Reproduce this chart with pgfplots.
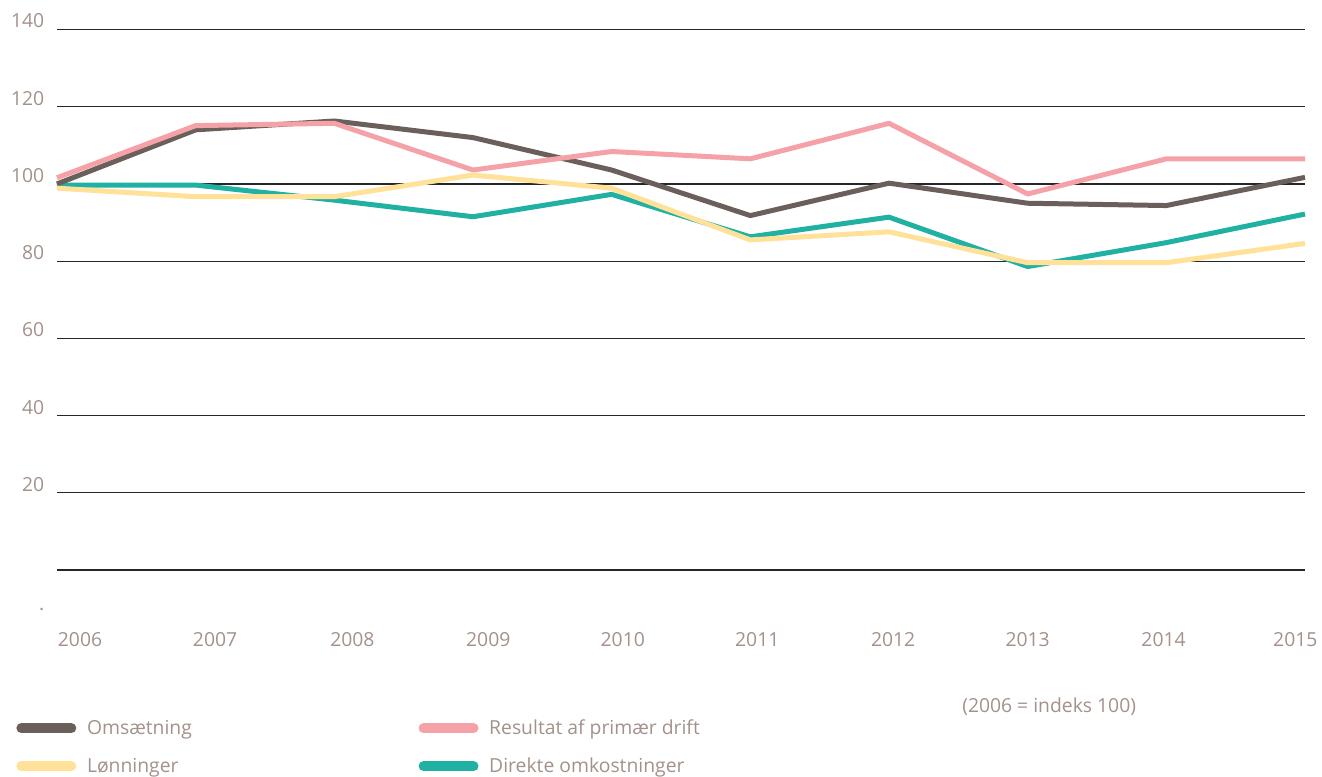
\documentclass[border=0pt]{standalone}
\usepackage{pgfplots}
\pgfplotsset{compat=1.18}
\usepackage{fontspec}
\setmainfont{Open Sans}
\definecolor{cDark}{RGB}{107,95,92}
\definecolor{cPink}{RGB}{244,162,168}
\definecolor{cYellow}{RGB}{255,225,153}
\definecolor{cTeal}{RGB}{33,177,162}
\definecolor{cText}{RGB}{163,145,138}
\begin{document}
\begin{tikzpicture}
\begin{axis}[
  scale only axis,
  clip=false,
  width=936pt, height=448.9pt,
  xmin=2006, xmax=2015, ymin=-15, ymax=140,
  axis line style={draw=none},
  major tick length=0pt,
  ytick={0,20,40,60,80,100,120,140},
  yticklabels={,20,40,60,80,100,120,140},
  extra y ticks={-9.6},
  extra y tick labels={.},
  extra y tick style={grid=none, yticklabel style={yshift=-4pt}},
  ymajorgrids,
  major grid style={draw=black!85, line width=0.9pt},
  xtick={2006.166,2007.14,2008.13,2009.11,2010.08,2011.05,2012.03,2013.0,2013.98,2014.93},
  xticklabels={2006,2007,2008,2009,2010,2011,2012,2013,2014,2015},
  /pgf/number format/assume math mode=true,
  every tick label/.append style={font=\fontsize{14.5pt}{17pt}\selectfont, text=cText},
  yticklabel style={anchor=base east, xshift=-6pt, yshift=1.2pt},
  xticklabel style={yshift=0pt},
  legend columns=2,
  legend cell align=left,
  legend style={draw=none, fill=none, at={(-0.036,-0.144)}, anchor=north west,
    font=\fontsize{14.5pt}{17pt}\selectfont, text=cText,
    /tikz/every even column/.append style={column sep=168pt},
    row sep=12pt},
  legend image code/.code={\draw[#1, line width=7.5pt, line cap=round] (3.75pt,0pt) -- (41.25pt,0pt); \path[draw=none, fill=none] (0pt,0pt) rectangle (51pt,0.1pt);},
]
\addplot[cTeal, line width=3.75pt, line join=round, forget plot] coordinates {
 (2006,99.7) (2007,99.7) (2008,95.8) (2009,91.5) (2010,97.3) (2011,86.3) (2012,91.4) (2013,78.6) (2014,84.8) (2015,92.2)};
\addplot[cDark, line width=3.75pt, line join=round, forget plot] coordinates {
 (2006,100) (2007,114) (2008,116.3) (2009,112) (2010,103.6) (2011,91.8) (2012,100.2) (2013,95) (2014,94.4) (2015,101.7)};
\addplot[cPink, line width=3.75pt, line join=round, forget plot] coordinates {
 (2006,101.6) (2007,115.1) (2008,115.7) (2009,103.6) (2010,108.4) (2011,106.5) (2012,115.7) (2013,97.4) (2014,106.5) (2015,106.5)};
\addplot[cYellow, line width=3.75pt, line join=round, forget plot] coordinates {
 (2006,98.9) (2007,96.7) (2008,96.7) (2009,102.3) (2010,98.9) (2011,85.5) (2012,87.6) (2013,79.6) (2014,79.6) (2015,84.6)};
\addlegendimage{cDark}
\addlegendentry{Omsætning}
\addlegendimage{cPink}
\addlegendentry{Resultat af primær drift}
\addlegendimage{cYellow}
\addlegendentry{Lønninger}
\addlegendimage{cTeal}
\addlegendentry{Direkte omkostninger}
\node[font=\fontsize{14.5pt}{17pt}\selectfont, text=cText, anchor=center] at (axis description cs:0.795,-0.132) {(2006 = indeks 100)};
\end{axis}
\pgfresetboundingbox
\path (-42.75pt,-111pt) rectangle (948.75pt,471pt);
\end{tikzpicture}
\end{document}
